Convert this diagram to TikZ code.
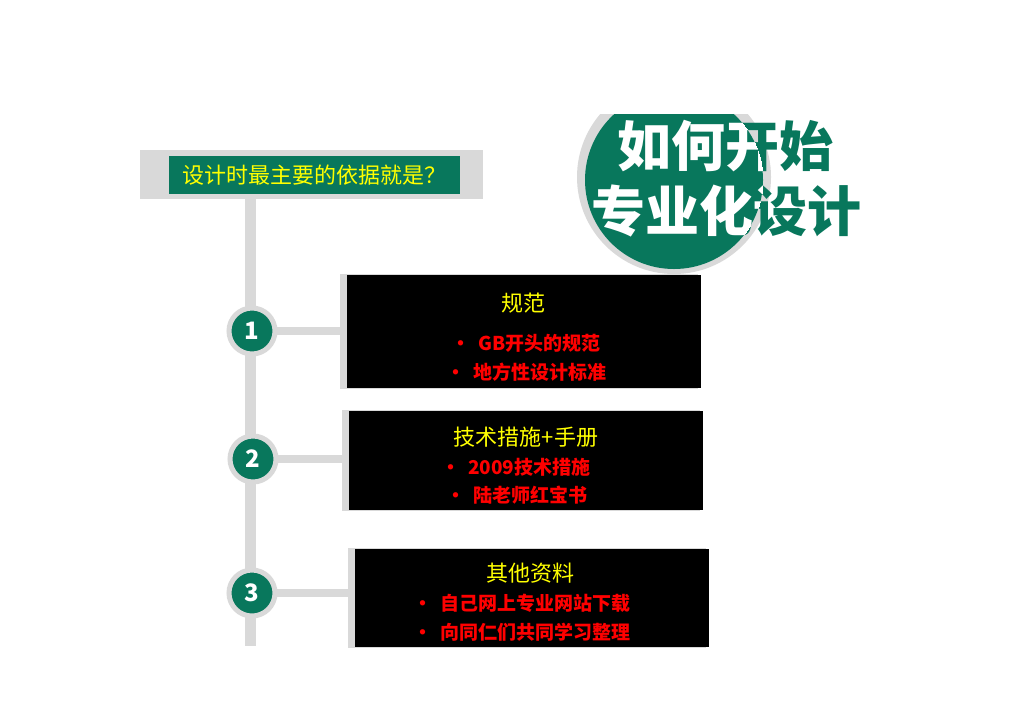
\documentclass[tikz,border=0pt]{standalone}
\usepackage{fontspec}
\newfontfamily\cjk{Noto Sans CJK SC}
\definecolor{spGreen}{HTML}{08775C}
\definecolor{spGray}{HTML}{D9D9D9}
\definecolor{spYellow}{HTML}{FFFF00}
\definecolor{spRed}{HTML}{FF0000}
\tikzset{
  sp rail/.style={draw=spGray, line width=11pt},
  sp link/.style={draw=spGray, line width=8pt},
  sp badge/.style={circle, draw=spGray, fill=spGreen, line width=5pt, minimum size=46pt, inner sep=0pt, text=white, font=\cjk\bfseries\fontsize{24}{24}\selectfont},
  sp back/.style={fill=spGray, inner sep=0pt},
  sp card/.style={fill=black, inner sep=0pt, minimum width=354pt},
  sp head/.style={font=\cjk\fontsize{22}{26}\selectfont, text=spYellow, inner sep=0pt},
  sp item/.style={font=\cjk\bfseries\fontsize{19}{22}\selectfont, text=spRed, inner sep=0pt, anchor=west},
  sp title/.style={font=\cjk\bfseries\fontsize{54}{60}\selectfont, inner sep=0pt},
}
\newcommand{\spdot}{\makebox[27pt][l]{•}}

\begin{document}
\begin{tikzpicture}[x=1pt, y=-1pt]
  \useasboundingbox (0,0) rectangle (1024,724);
  \fill[white] (0,0) rectangle (1024,724);

  % Title disc
  \begin{scope}
    \clip (560,114) rectangle (800,290);
    \fill[spGray] (674,177) circle (97);
    \fill[spGreen] (674,180) circle (89);
  \end{scope}
  \node[sp title, text=spGreen] (t1) at (725,146) {如何开始};
  \node[sp title, text=spGreen] (t2) at (726,211) {专业化设计};
  \begin{scope}
    \clip (674,180) circle (89);
    \node[sp title, text=white] (t1w) at (725,146) {如何开始};
    \node[sp title, text=white] (t2w) at (726,211) {专业化设计};
  \end{scope}

  % Question bar
  \node[sp back, minimum width=343pt, minimum height=49pt] (hd) at (311.5,174.5) {};
  \node[fill=spGreen, minimum width=291pt, minimum height=38pt, inner sep=0pt,
        text=spYellow, font=\cjk\fontsize{22}{24}\selectfont] (q) at (314.5,175) {设计时最主要的依据就是？};

  % Rail
  \coordinate (railtop) at (250,199);
  \coordinate (railend) at (250,646);
  \draw[sp rail] (railtop) -- (railend);

  % Cards
  \node[sp back, minimum width=358pt, minimum height=115pt] (g1) at (519,331.5) {};
  \node[sp card, minimum height=113pt] (b1) at (524,331.5) {};
  \node[sp back, minimum width=358pt, minimum height=101pt] (g2) at (521,460.5) {};
  \node[sp card, minimum height=99pt] (b2) at (526,460.5) {};
  \node[sp back, minimum width=358pt, minimum height=100pt] (g3) at (527,598) {};
  \node[sp card, minimum height=98pt] (b3) at (532,598) {};

  % Badges and links
  \coordinate (c1) at (252,331);
  \coordinate (c2) at (253,459);
  \coordinate (c3) at (252,593);
  \draw[sp link] (c1) -- (c1 -| g1.west);
  \draw[sp link] (c2) -- (c2 -| g2.west);
  \draw[sp link] (c3) -- (c3 -| g3.west);
  \node[sp badge] (n1) at (c1) {1};
  \node[sp badge] (n2) at (c2) {2};
  \node[sp badge] (n3) at (c3) {3};

  % Card texts
  \node[sp head] (h1) at (523,303) {规范};
  \node[sp item] (i1a) at (451,343) {\spdot GB开头的规范};
  \node[sp item] (i1b) at (446,372) {\spdot 地方性设计标准};

  \node[sp head] (h2) at (526,437) {技术措施+手册};
  \node[sp item] (i2a) at (441,467) {\spdot 2009技术措施};
  \node[sp item] (i2b) at (446,495) {\spdot 陆老师红宝书};

  \node[sp head] (h3) at (530,573) {其他资料};
  \node[sp item] (i3a) at (413,603) {\spdot 自己网上专业网站下载};
  \node[sp item] (i3b) at (413,632) {\spdot 向同仁们共同学习整理};
\end{tikzpicture}
\end{document}
